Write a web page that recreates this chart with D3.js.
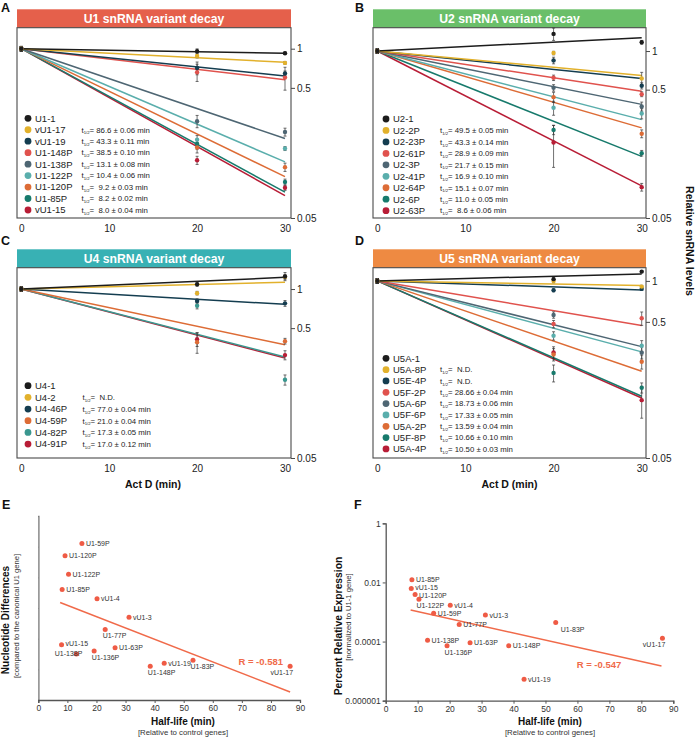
<!DOCTYPE html>
<html><head><meta charset="utf-8">
<script src="https://cdn.jsdelivr.net/npm/d3@7"></script>
<style>body{margin:0;background:#fff}svg{display:block;font-family:"Liberation Sans",Arial,Helvetica,sans-serif}</style>
</head><body><svg id="c" width="695" height="737"></svg>
<script>
// ---------------- DATA ----------------
const decayTimes = [0, 20, 30];
const decayXTicks = [0, 10, 20, 30];
const decayYTicks = [1, 0.5, 0.05];

// Panel A – U1
const u1Names = ["U1-1","vU1-17","vU1-19","U1-148P","U1-138P","U1-122P","U1-120P","U1-85P","vU1-15"];
const u1Half = [null,"86.6 ± 0.06 min","43.3 ± 0.11 min","38.5 ± 0.10 min","13.1 ± 0.08 min","10.4 ± 0.06 min"," 9.2 ± 0.03 min"," 8.2 ± 0.02 min"," 8.0 ± 0.04 min"];
const u1At20 = [0.957,0.88,0.71,0.66,0.277,0.20,0.174,0.185,0.139];
const u1At30 = [0.923,0.778,0.644,0.60,0.229,0.171,0.123,0.0945,0.0855];
const u1Fit30 = [0.923,0.786,0.618,0.578,0.204,0.135,0.104,0.079,0.0743];
const u1Err20 = [0.04,0.03,0.08,0.1,0.03,0.015,0.016,0.016,0.01];
const u1Err30 = [0.02,0.02,0.03,0.12,0.016,0.006,0.009,0.005,0.004];

// Panel B – U2
const u2Names = ["U2-1","U2-2P","U2-23P","U2-61P","U2-3P","U2-41P","U2-64P","U2-6P","U2-63P"];
const u2Half = [null,"49.5 ± 0.05 min","43.3 ± 0.14 min","28.9 ± 0.09 min","21.7 ± 0.15 min","16.9 ± 0.10 min","15.1 ± 0.07 min","11.0 ± 0.05 min"," 8.6 ± 0.06 min"];
const u2At20 = [1.36,0.965,0.845,0.619,0.517,0.361,0.437,0.243,0.194];
const u2At30 = [1.17,0.612,0.536,0.461,0.37,0.326,0.227,0.16,0.087];
const u2Fit30 = [1.27,0.645,0.610,0.487,0.384,0.292,0.252,0.151,0.089];
const u2Err20 = [0.15,0.03,0.05,0.03,0.03,0.045,0.04,0.02,0.07];
const u2Err30 = [0.04,0.07,0.03,0.02,0.03,0.03,0.016,0.008,0.006];

// Panel C – U4
const u4Names = ["U4-1","U4-2","U4-46P","U4-59P","U4-82P","U4-91P"];
const u4Half = [null,"N.D.","77.0 ± 0.04 min","21.0 ± 0.04 min","17.3 ± 0.05 min","17.0 ± 0.12 min"];
const u4At20 = [1.09,0.93,0.81,0.39,0.743,0.411];
const u4At30 = [1.25,1.24,0.776,0.397,0.20,0.31];
const u4Fit30 = [1.23,1.13,0.762,0.372,0.30,0.294];
const u4Err20 = [0.04,0.03,0.03,0.07,0.04,0.05];
const u4Err30 = [0.09,0.05,0.04,0.02,0.018,0.025];

// Panel D – U5
const u5Names = ["U5A-1","U5A-8P","U5E-4P","U5F-2P","U5A-6P","U5F-6P","U5A-2P","U5F-8P","U5A-4P"];
const u5Half = [null,"N.D.","N.D.","28.66 ± 0.04 min","18.73 ± 0.06 min","17.33 ± 0.05 min","13.59 ± 0.04 min","10.66 ± 0.10 min","10.50 ± 0.03 min"];
const u5At20 = [1.03,1.0,0.853,0.482,0.562,0.395,0.288,0.211,0.298];
const u5At30 = [1.17,0.908,0.873,0.531,0.297,0.334,0.255,0.164,0.133];
const u5Fit30 = [1.126,0.924,0.858,0.47,0.329,0.301,0.217,0.142,0.138];
const u5Err20 = [0.03,0.03,0.02,0.03,0.03,0.028,0.03,0.03,0.03];
const u5Err30 = [0.02,0.02,0.02,0.06,0.03,0.03,0.03,0.014,0.035];

const err0 = 0.04;

// Panels E / F – U1 variants
const varNames = ["U1-59P","U1-120P","U1-122P","U1-85P","vU1-4","vU1-3","U1-77P","vU1-15","U1-138P","U1-136P","U1-63P","U1-148P","vU1-19","U1-83P","vU1-17"];
const varHalfLife = [15.0,9.2,10.4,8.2,20.2,31.2,23.0,8.0,13.1,19.2,26.4,38.5,43.3,53.2,86.6];
const varNucDiff = [51,47,41,36,33,27,23,18,15,16,17,11,12,13,11];
const varRelExpr = [0.0009,0.0039,0.0027,0.0124,0.0017,0.00079,0.00038,0.0062,0.00011,0.000072,0.000092,0.000072,0.0000053,0.00044,0.00013];
const trendE = [[7.5,31.8],[86.6,2.6]];
const trendF = [[7.8,0.00117],[86.3,0.0000148]];
const rE = "R = -0.581";
const rF = "R = -0.547";
const eXTicks = [0,10,20,30,40,50,60,70,80,90];
const eYTicks = [0,10,20,30,40,50,60];
const fYTicks = [1,0.01,0.0001,0.000001];
const fYTickLabels = ["1","0.01","0.0001","0.000001"];

// ---------------- STYLE ----------------
const C = {black:"#1c1c1c",gold:"#e2b12c",navy:"#143d50",red:"#e0524d",slate:"#4e6673",ltteal:"#5aaeac",orange:"#dd6c36",dkgreen:"#177a6c",crimson:"#b81d36",teal:"#3a978f"};
const pal9 = [C.black,C.gold,C.navy,C.red,C.slate,C.ltteal,C.orange,C.dkgreen,C.crimson];
const pal6 = [C.black,C.gold,C.navy,C.orange,C.teal,C.crimson];
const labelPosE = ["r","r","r","r","r","r","b","ru","l","b","r","b","r","b","bl"];
const labelPosF = ["r","rd","b","r","r","r","r","ru","r","b","r","r","r","br","bl"];

const svg = d3.select("#c");

function decayPanel(cfg, d) {
  const g = svg.append("g");
  const x = d3.scaleLinear().domain([0,30]).range([cfg.x0px, cfg.x30px]);
  const y = d3.scaleLog().domain([0.05, cfg.yMax]).range([cfg.bottom, cfg.top]);
  g.append("rect").attr("x",cfg.left).attr("y",cfg.barTop).attr("width",cfg.right-cfg.left)
    .attr("height",cfg.top-cfg.barTop).attr("fill",cfg.bar);
  g.append("text").attr("x",(cfg.left+cfg.right)/2).attr("y",(cfg.barTop+cfg.top)/2+4.3)
    .attr("text-anchor","middle").attr("fill","#fff").attr("font-weight","bold").attr("font-size",12.2).text(cfg.title);
  g.append("rect").attr("x",cfg.left).attr("y",cfg.top).attr("width",cfg.right-cfg.left)
    .attr("height",cfg.bottom-cfg.top).attr("fill","none").attr("stroke","#4a4a4a").attr("stroke-width",1.1);
  svg.append("text").attr("x",cfg.lx).attr("y",cfg.ly).attr("font-weight","bold").attr("font-size",12.5).attr("fill","#111").text(cfg.letter);
  const ay = g.append("g").attr("transform",`translate(${cfg.right},0)`)
    .call(d3.axisRight(y).tickValues(decayYTicks).tickFormat(d3.format("")).tickSize(4).tickPadding(2));
  ay.select(".domain").remove();
  ay.selectAll("line").attr("stroke","#4a4a4a");
  ay.selectAll("text").attr("font-size",10).attr("fill","#222").attr("font-family",null);
  const ax = g.append("g").attr("transform",`translate(0,${cfg.bottom})`)
    .call(d3.axisBottom(x).tickValues(decayXTicks).tickSize(0).tickPadding(7));
  ax.select(".domain").remove();
  ax.selectAll("text").attr("font-size",10).attr("fill","#222").attr("font-family",null);
  const n = d.names.length;
  const idx = d3.range(n).reverse();
  const line = d3.line().x(p=>x(p[0])).y(p=>y(p[1]));
  idx.forEach(i=>{
    g.append("path").attr("d",line([[0,1],[30,d.fit30[i]]])).attr("fill","none")
      .attr("stroke",d.colors[i]).attr("stroke-width",1.5);
  });
  idx.forEach(i=>{
    const vals = [1,d.at20[i],d.at30[i]];
    const errs = [err0,d.err20[i],d.err30[i]];
    decayTimes.forEach((t,k)=>{
      const v = vals[k], e = errs[k];
      const xx = x(t), y1 = y(v+e), y2 = y(Math.max(v-e,0.051));
      g.append("line").attr("x1",xx).attr("x2",xx).attr("y1",y1).attr("y2",y2).attr("stroke","#333").attr("stroke-width",0.7);
      [y1,y2].forEach(yy=>g.append("line").attr("x1",xx-1.5).attr("x2",xx+1.5).attr("y1",yy).attr("y2",yy).attr("stroke","#333").attr("stroke-width",0.7));
    });
  });
  idx.forEach(i=>{
    const vals = [1,d.at20[i],d.at30[i]];
    decayTimes.forEach((t,k)=>{
      g.append("circle").attr("cx",x(t)).attr("cy",y(vals[k])).attr("r",2.2).attr("fill",d.colors[i]);
    });
  });
  d.names.forEach((nm,i)=>{
    const yy = cfg.legY + i*cfg.legDy;
    g.append("circle").attr("cx",cfg.legX).attr("cy",yy).attr("r",3.4).attr("fill",d.colors[i]);
    g.append("text").attr("x",cfg.legX+7).attr("y",yy+3.4).attr("font-size",9.5).attr("fill","#222").text(nm);
    if (d.half[i]) {
      const t = g.append("text").attr("x",cfg.tX).attr("y",yy+2.8).attr("font-size",7.8).attr("fill","#222");
      t.append("tspan").text("t");
      t.append("tspan").attr("font-size",4.2).attr("dy",1.8).text("1/2");
      t.append("tspan").attr("dy",-1.8).attr("xml:space","preserve").text("= " + (d.half[i]==="N.D."?" N.D.":d.half[i]));
    }
  });
}

decayPanel({left:17,right:291,top:27.7,bottom:218,barTop:9.3,x0px:21.3,x30px:285,yMax:1.45,title:"U1 snRNA variant decay",bar:"#e5604b",letter:"A",lx:1,ly:11.5,legX:28,legY:118.3,legDy:11.46,tX:81.5},
  {names:u1Names,half:u1Half,at20:u1At20,at30:u1At30,fit30:u1Fit30,err20:u1Err20,err30:u1Err30,colors:pal9});
decayPanel({left:373,right:646,top:27.7,bottom:218,barTop:9.3,x0px:377.3,x30px:641.7,yMax:1.52,title:"U2 snRNA variant decay",bar:"#6abf69",letter:"B",lx:355,ly:11.5,legX:386,legY:119,legDy:11.46,tX:440},
  {names:u2Names,half:u2Half,at20:u2At20,at30:u2At30,fit30:u2Fit30,err20:u2Err20,err30:u2Err30,colors:pal9});
decayPanel({left:17,right:291,top:267.7,bottom:458,barTop:249.3,x0px:21.3,x30px:285,yMax:1.46,title:"U4 snRNA variant decay",bar:"#38b1b4",letter:"C",lx:1,ly:245,legX:28,legY:385.7,legDy:11.67,tX:82.5},
  {names:u4Names,half:u4Half,at20:u4At20,at30:u4At30,fit30:u4Fit30,err20:u4Err20,err30:u4Err30,colors:pal6});
decayPanel({left:373,right:646,top:267.7,bottom:458,barTop:249.3,x0px:377.3,x30px:641.7,yMax:1.25,title:"U5 snRNA variant decay",bar:"#ee8a42",letter:"D",lx:355,ly:245,legX:386,legY:358.3,legDy:11.33,tX:440},
  {names:u5Names,half:u5Half,at20:u5At20,at30:u5At30,fit30:u5Fit30,err20:u5Err20,err30:u5Err30,colors:pal9});

[153,509.5].forEach(cx=>svg.append("text").attr("x",cx).attr("y",488).attr("text-anchor","middle")
  .attr("font-weight","bold").attr("font-size",10.5).attr("fill","#111").text("Act D (min)"));
svg.append("text").attr("transform","translate(686,241) rotate(90)").attr("text-anchor","middle")
  .attr("font-weight","bold").attr("font-size",10.5).attr("fill","#111").text("Relative snRNA levels");

// ---------------- SCATTER PANELS ----------------
function placeLabel(g, px, py, name, pos) {
  let x=px+4, y=py+2.5, anchor="start";
  if (pos==="ru") { y=py+1.3; }
  else if (pos==="rd") { y=py+3.6; }
  else if (pos==="b") { x=px-2.5; y=py+9; }
  else if (pos==="br") { x=px+5; y=py+9; }
  else if (pos==="bl") { x=px+3; y=py+9; anchor="end"; }
  else if (pos==="l") { x=px+6; y=py+1.8; anchor="end"; }
  g.append("text").attr("x",x).attr("y",y).attr("text-anchor",anchor).attr("font-size",7).attr("fill","#333").text(name);
}
function styleAxis(a){
  a.select(".domain").attr("stroke","#555").attr("stroke-width",1.3);
  a.selectAll("line").attr("stroke","#555");
  a.selectAll("text").attr("font-size",8.5).attr("fill","#333").attr("font-family",null);
}
const ptColor = "#ef5b45";
const trendColor = "#f06a4a";

// E
{
  const g = svg.append("g");
  const x = d3.scaleLinear().domain([0,90]).range([38.3,300]);
  const y = d3.scaleLinear().domain([0,60]).range([700,516]);
  svg.append("defs").append("clipPath").attr("id","clipE").append("rect").attr("x",0).attr("y",513.5).attr("width",60).attr("height",220);
  const ax = g.append("g").attr("transform","translate(0,700)").call(d3.axisBottom(x).tickValues(eXTicks).tickSize(3).tickPadding(2));
  styleAxis(ax);
  const ay = g.append("g").attr("transform","translate(38.3,0)").attr("clip-path","url(#clipE)")
    .call(d3.axisLeft(y).tickValues(eYTicks).tickSize(3).tickPadding(2));
  styleAxis(ay);
  g.append("path").attr("d",d3.line().x(p=>x(p[0])).y(p=>y(p[1]))(trendE)).attr("stroke",trendColor).attr("stroke-width",1.5).attr("fill","none");
  varNames.forEach((nm,i)=>{
    const px=x(varHalfLife[i]), py=y(varNucDiff[i]);
    g.append("circle").attr("cx",px).attr("cy",py).attr("r",2.5).attr("fill",ptColor);
    placeLabel(g,px,py,nm,labelPosE[i]);
  });
  g.append("text").attr("x",260.7).attr("y",665).attr("text-anchor","middle").attr("font-size",9.5).attr("font-weight",600).attr("fill",trendColor).text(rE);
  svg.append("text").attr("x",2).attr("y",508.5).attr("font-weight","bold").attr("font-size",12.5).attr("fill","#111").text("E");
  svg.append("text").attr("transform","translate(9,620) rotate(-90)").attr("text-anchor","middle").attr("font-weight","bold").attr("font-size",10).attr("fill","#111").text("Nucleotide Differences");
  svg.append("text").attr("transform","translate(18.5,616) rotate(-90)").attr("text-anchor","middle").attr("font-size",7.6).attr("fill","#333").text("[compared to the canonical U1 gene]");
  svg.append("text").attr("x",183).attr("y",725).attr("text-anchor","middle").attr("font-weight","bold").attr("font-size",10).attr("fill","#111").text("Half-life (min)");
  svg.append("text").attr("x",183).attr("y",734.5).attr("text-anchor","middle").attr("font-size",7.8).attr("fill","#333").text("[Relative to control genes]");
}
// F
{
  const g = svg.append("g");
  const x = d3.scaleLinear().domain([0,90]).range([385.7,673.3]);
  const y = d3.scaleLog().domain([0.000001,1]).range([700.7,523.3]);
  const ax = g.append("g").attr("transform","translate(0,700.7)").call(d3.axisBottom(x).tickValues(eXTicks).tickSize(3).tickPadding(2));
  styleAxis(ax);
  const ay = g.append("g").attr("transform","translate(385.7,0)")
    .call(d3.axisLeft(y).tickValues(fYTicks).tickFormat((v,i)=>fYTickLabels[i]).tickSize(3).tickPadding(2));
  styleAxis(ay);
  g.append("path").attr("d",d3.line().x(p=>x(p[0])).y(p=>y(p[1]))(trendF)).attr("stroke",trendColor).attr("stroke-width",1.5).attr("fill","none");
  varNames.forEach((nm,i)=>{
    const px=x(varHalfLife[i]), py=y(varRelExpr[i]);
    g.append("circle").attr("cx",px).attr("cy",py).attr("r",2.5).attr("fill",ptColor);
    placeLabel(g,px,py,nm,labelPosF[i]);
  });
  g.append("text").attr("x",599).attr("y",668).attr("text-anchor","middle").attr("font-size",9.5).attr("font-weight",600).attr("fill",trendColor).text(rF);
  svg.append("text").attr("x",354).attr("y",508.5).attr("font-weight","bold").attr("font-size",12.5).attr("fill","#111").text("F");
  svg.append("text").attr("transform","translate(342,626) rotate(-90)").attr("text-anchor","middle").attr("font-weight","bold").attr("font-size",10.3).attr("fill","#111").text("Percent Relative Expression");
  svg.append("text").attr("transform","translate(350.5,617) rotate(-90)").attr("text-anchor","middle").attr("font-size",7.6).attr("fill","#333").text("[normalized to U1-1 gene]");
  svg.append("text").attr("x",550).attr("y",725).attr("text-anchor","middle").attr("font-weight","bold").attr("font-size",10).attr("fill","#111").text("Half-life (min)");
  svg.append("text").attr("x",550).attr("y",734.5).attr("text-anchor","middle").attr("font-size",7.8).attr("fill","#333").text("[Relative to control genes]");
}
</script></body></html>
